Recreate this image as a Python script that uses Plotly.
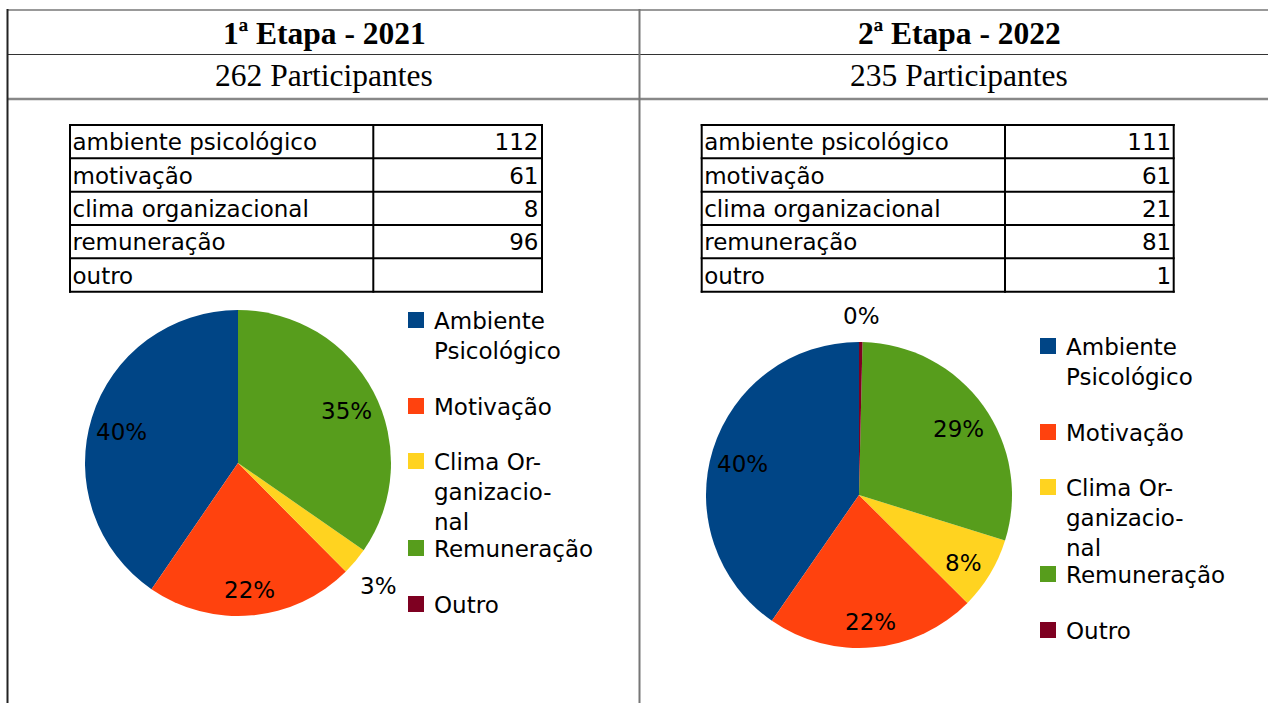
import math
import plotly.graph_objects as go

W, H = 1268, 703

# ---------------- data ----------------
categories = ["ambiente psicológico", "motivação", "clima organizacional", "remuneração", "outro"]
legend_labels = ["Ambiente Psicológico", "Motivação", "Clima Organizacional", "Remuneração", "Outro"]
legend_wrapped = ["Ambiente<br>Psicológico", "Motivação", "Clima Or-<br>ganizacio-<br>nal",
                  "Remuneração", "Outro"]
values_2021 = [112, 61, 8, 96, None]
values_2022 = [111, 61, 21, 81, 1]
titles = ["1ª Etapa - 2021", "2ª Etapa - 2022"]
participants = [262, 235]
colors = ["#004586", "#ff420e", "#ffd320", "#579d1c", "#7e0021"]

SANS = "DejaVu Sans"
SERIF = "Liberation Serif"


def PX(x):
    return x / W


def PY(y):
    return 1 - y / H


fig = go.Figure()
shapes = []
annotations = []


def hline(y, x0, x1, color, width):
    shapes.append(dict(type="line", xref="paper", yref="paper", x0=PX(x0), x1=PX(x1),
                       y0=PY(y), y1=PY(y), line=dict(color=color, width=width)))


def vline(x, y0, y1, color, width):
    shapes.append(dict(type="line", xref="paper", yref="paper", x0=PX(x), x1=PX(x),
                       y0=PY(y0), y1=PY(y1), line=dict(color=color, width=width)))


# ---------------- page grid ----------------
hline(10, 7, 1268, "#999999", 2)
hline(54.5, 7, 1268, "#333333", 1.2)
hline(99, 7, 1268, "#888888", 2.5)
vline(7.5, 9, 703, "#222222", 2)
vline(639.5, 9, 703, "#777777", 2)

col_centers = [324, 959]
for i in range(2):
    annotations.append(dict(xref="paper", yref="paper", x=PX(col_centers[i]), y=PY(34),
                            text="<b>%s</b>" % titles[i], showarrow=False,
                            xanchor="center", yanchor="middle",
                            font=dict(family=SERIF, size=31.5, color="black")))
    annotations.append(dict(xref="paper", yref="paper", x=PX(col_centers[i]), y=PY(75),
                            text="%d Participantes" % participants[i], showarrow=False,
                            xanchor="center", yanchor="middle",
                            font=dict(family=SERIF, size=31.5, color="black")))

# ---------------- panels ----------------
panels = [
    dict(values=values_2021, dx=0, dy=0, tx0=70, pie_cx=238, pie_cy=463),
    dict(values=values_2022, dx=632, dy=26, tx0=701.7, pie_cx=859, pie_cy=495),
]
R = 153
TW1, TW2 = 303.3, 168.7      # column widths (px)
ROW_H = 33.33
TABLE_TOP = 125
PAD_COMP = 5.5                # compensates plotly's inner cell padding
legend_first_line = [320, 406, 461, 548, 604]
LH = 23 * 1.3
LABEL_DY = 5

for p in panels:
    vals = p["values"]
    nums = [("" if v is None else str(v)) for v in vals]
    cats = [c.replace(" ", "\u00a0") for c in categories]
    tx0 = p["tx0"]
    tx1 = tx0 + TW1 + TW2
    nrows = len(categories)
    tbot = TABLE_TOP + nrows * ROW_H
    fig.add_trace(go.Table(
        domain=dict(x=[PX(tx0 - PAD_COMP), PX(tx1 + PAD_COMP)], y=[PY(tbot + 4), PY(TABLE_TOP)]),
        columnwidth=[TW1 + PAD_COMP, TW2 + PAD_COMP],
        header=dict(values=[cats[0], nums[0]], height=ROW_H,
                    align=["left", "right"], fill_color="white",
                    line=dict(color="rgba(0,0,0,0)", width=0),
                    font=dict(family=SANS, size=23, color="black")),
        cells=dict(values=[cats[1:], nums[1:]], height=ROW_H,
                   align=["left", "right"], fill_color="white",
                   line=dict(color="rgba(0,0,0,0)", width=0),
                   font=dict(family=SANS, size=23, color="black")),
    ))
    # table rules
    for r in range(nrows + 1):
        hline(TABLE_TOP + r * ROW_H, tx0 - 1, tx1 + 1, "black", 2)
    for xx in (tx0, tx0 + TW1, tx1):
        vline(xx, TABLE_TOP - 1, tbot + 1, "black", 2)

    cx, cy = p["pie_cx"], p["pie_cy"]
    pv = [0 if v is None else v for v in vals]
    total = sum(pv)
    # plotly puts the first counterclockwise slice clockwise of the start angle,
    # so rotate back by the first slice so that it starts at 12 o'clock going left
    rot = -pv[0] / total * 360
    fig.add_trace(go.Pie(
        labels=legend_labels, values=pv, sort=False, direction="counterclockwise",
        rotation=rot, marker=dict(colors=colors, line=dict(width=0)),
        textinfo="none", textposition="none", showlegend=False, hoverinfo="label+value+percent",
        domain=dict(x=[PX(cx - R), PX(cx + R)], y=[PY(cy + R), PY(cy - R)]),
    ))

    # percentage labels placed along each slice's bisector
    cum = 0
    for v in vals:
        if v is None:
            continue
        frac = v / total
        mid = (cum + v / 2) / total
        cum += v
        th = 2 * math.pi * mid
        rr = 0.8 * R if frac >= 0.05 else 1.2 * R
        lx = cx - rr * math.sin(th)
        ly = cy - rr * math.cos(th) + LABEL_DY
        annotations.append(dict(xref="paper", yref="paper", x=PX(lx), y=PY(ly),
                                text="%d%%" % round(frac * 100), showarrow=False,
                                xanchor="center", yanchor="middle",
                                font=dict(family=SANS, size=23, color="black")))

    # legend
    for k, lab in enumerate(legend_wrapped):
        yc = legend_first_line[k] + p["dy"]
        sx = 408 + p["dx"]
        shapes.append(dict(type="rect", xref="paper", yref="paper",
                           x0=PX(sx), x1=PX(sx + 16), y0=PY(yc + 8), y1=PY(yc - 8),
                           fillcolor=colors[k], line=dict(width=0)))
        nl = lab.count("<br>") + 1
        annotations.append(dict(xref="paper", yref="paper", x=PX(sx + 24),
                                y=PY(yc + 1 + (nl - 1) * LH / 2), text=lab, showarrow=False,
                                xanchor="left", yanchor="middle", align="left",
                                font=dict(family=SANS, size=23, color="black")))

fig.update_layout(
    width=W, height=H, margin=dict(l=0, r=0, t=0, b=0),
    paper_bgcolor="white", plot_bgcolor="white",
    shapes=shapes, annotations=annotations, showlegend=False,
)

fig.write_html("out.html", config={"displayModeBar": False},
               post_script="document.body.style.margin='0';document.body.style.overflow='hidden';")
